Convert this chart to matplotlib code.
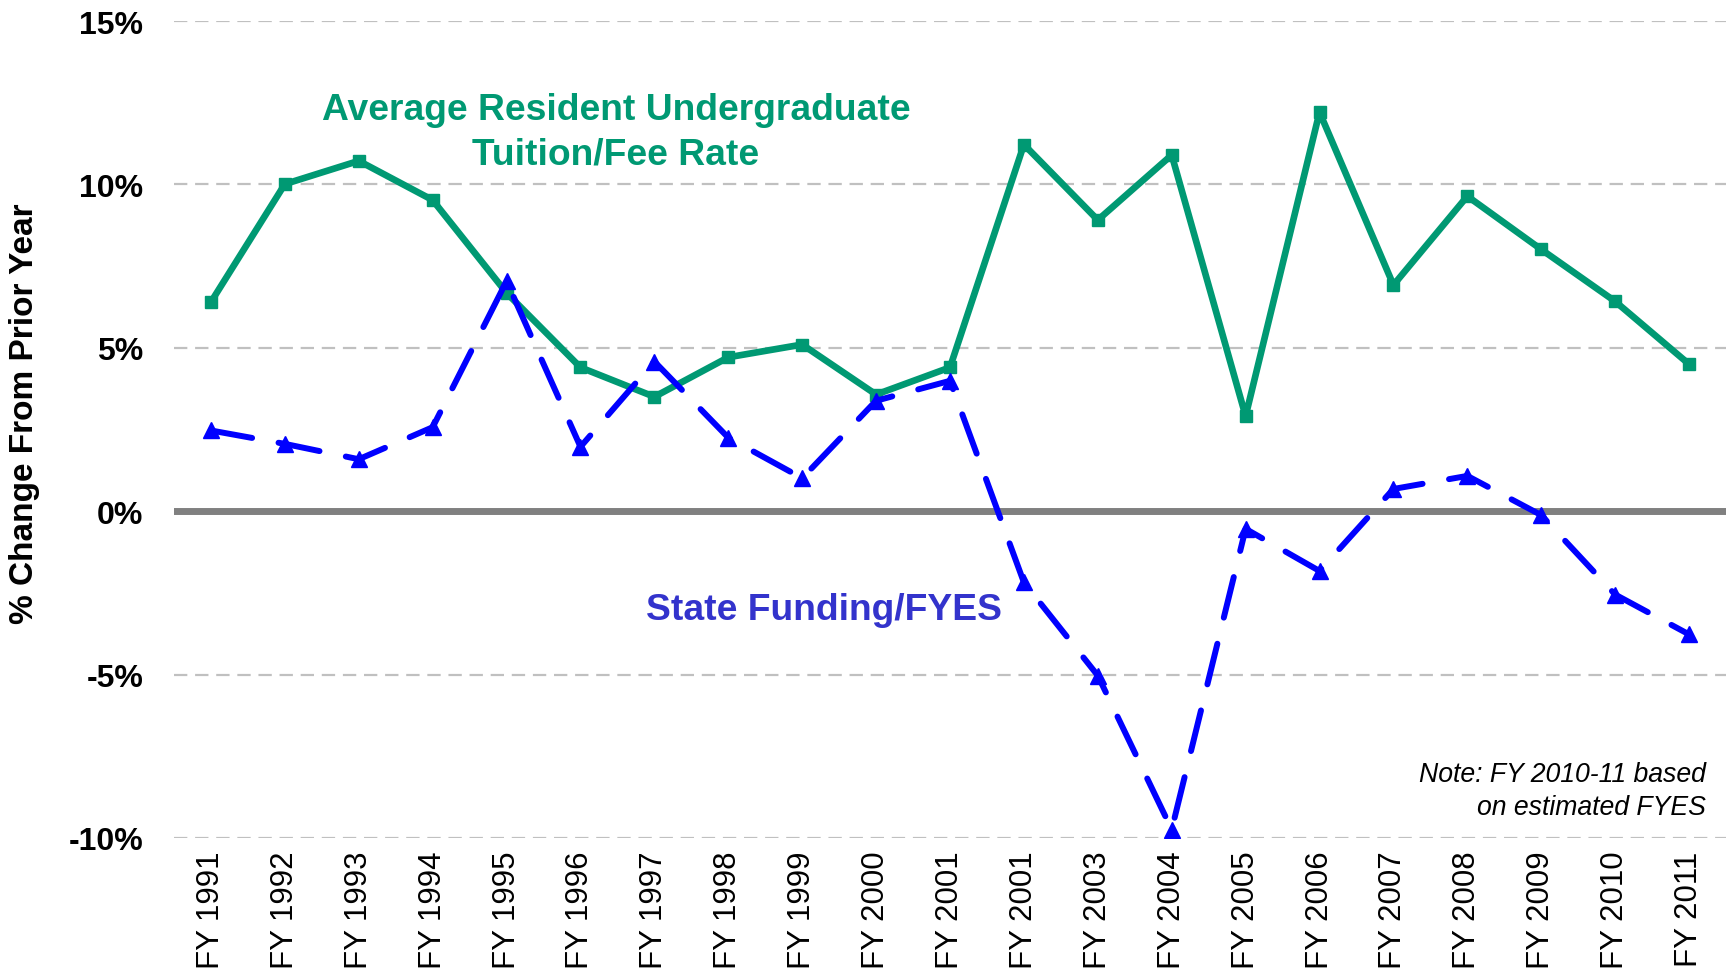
import matplotlib
matplotlib.use("Agg")
import matplotlib.pyplot as plt

plt.rcParams['font.family'] = ['Liberation Sans', 'DejaVu Sans']

years = ["FY 1991", "FY 1992", "FY 1993", "FY 1994", "FY 1995", "FY 1996", "FY 1997",
         "FY 1998", "FY 1999", "FY 2000", "FY 2001", "FY 2001", "FY 2003", "FY 2004",
         "FY 2005", "FY 2006", "FY 2007", "FY 2008", "FY 2009", "FY 2010", "FY 2011"]
tuition = [6.40, 10.01, 10.72, 9.52, 6.68, 4.40, 3.50, 4.71, 5.10, 3.57, 4.40,
           11.22, 8.91, 10.90, 2.91, 12.21, 6.92, 9.64, 8.01, 6.42, 4.50]
state_funding = [2.47, 2.06, 1.59, 2.57, 7.04, 1.97, 4.58, 2.25, 1.01, 3.38, 3.99,
                 -2.18, -5.03, -9.74, -0.54, -1.83, 0.68, 1.08, -0.12, -2.55, -3.77]
yticks = [15, 10, 5, 0, -5, -10]
ytick_labels = ["15%", "10%", "5%", "0%", "-5%", "-10%"]

green = "#009973"
blue = "#0000FF"

fig = plt.figure(figsize=(17.26, 9.78), dpi=100)
ax = fig.add_axes([174/1726, 1-839/978, 1-174/1726, (839-22)/978])

x = list(range(len(years)))

for t in yticks:
    if t != 0:
        ax.axhline(t, color="#C0C0C0", lw=1.6, ls=(0, (6, 3.5)), zorder=1)
ax.axhline(0, color="#808080", lw=5, zorder=2)

ax.plot(x, tuition, color=green, lw=4.8, marker="s", markersize=9,
        markerfacecolor=green, markeredgecolor=green, zorder=3)
ax.plot(x, state_funding, color=blue, lw=4.3, ls=(0, (7, 4.5)),
        dash_capstyle="round", marker="^", markersize=12,
        markerfacecolor=blue, markeredgecolor=blue, zorder=4)

ax.set_xlim(-0.5, len(years) - 0.5)
ax.set_ylim(-10, 15)
ax.set_yticks(yticks)
ax.set_yticklabels(ytick_labels, fontsize=23, fontweight="bold")
ax.set_xticks(x)
ax.set_xticklabels(years, rotation=90, fontsize=22.5)
ax.tick_params(axis="y", length=0, pad=22)
ax.tick_params(axis="x", length=0, pad=9)
for s in ax.spines.values():
    s.set_visible(False)

fig.text(25/1726, 1-414/978, "% Change From Prior Year", rotation=90,
         ha="center", va="center", fontsize=24, fontweight="bold")

ax.text(616/1726, 1-111/978, "Average Resident Undergraduate", transform=fig.transFigure,
        ha="center", va="center", fontsize=26.8, fontweight="bold", color=green)
ax.text(616/1726, 1-155/978, "Tuition/Fee Rate", transform=fig.transFigure,
        ha="center", va="center", fontsize=26.8, fontweight="bold", color=green)
ax.text(824/1726, 1-610/978, "State Funding/FYES", transform=fig.transFigure,
        ha="center", va="center", fontsize=26.8, fontweight="bold", color="#3333CC")
ax.text(1706/1726, 1-775/978, "Note: FY 2010-11 based", transform=fig.transFigure,
        ha="right", va="center", fontsize=19.2, style="italic", color="black")
ax.text(1706/1726, 1-808/978, "on estimated FYES", transform=fig.transFigure,
        ha="right", va="center", fontsize=19.2, style="italic", color="black")

fig.savefig("out.png", dpi=100)
